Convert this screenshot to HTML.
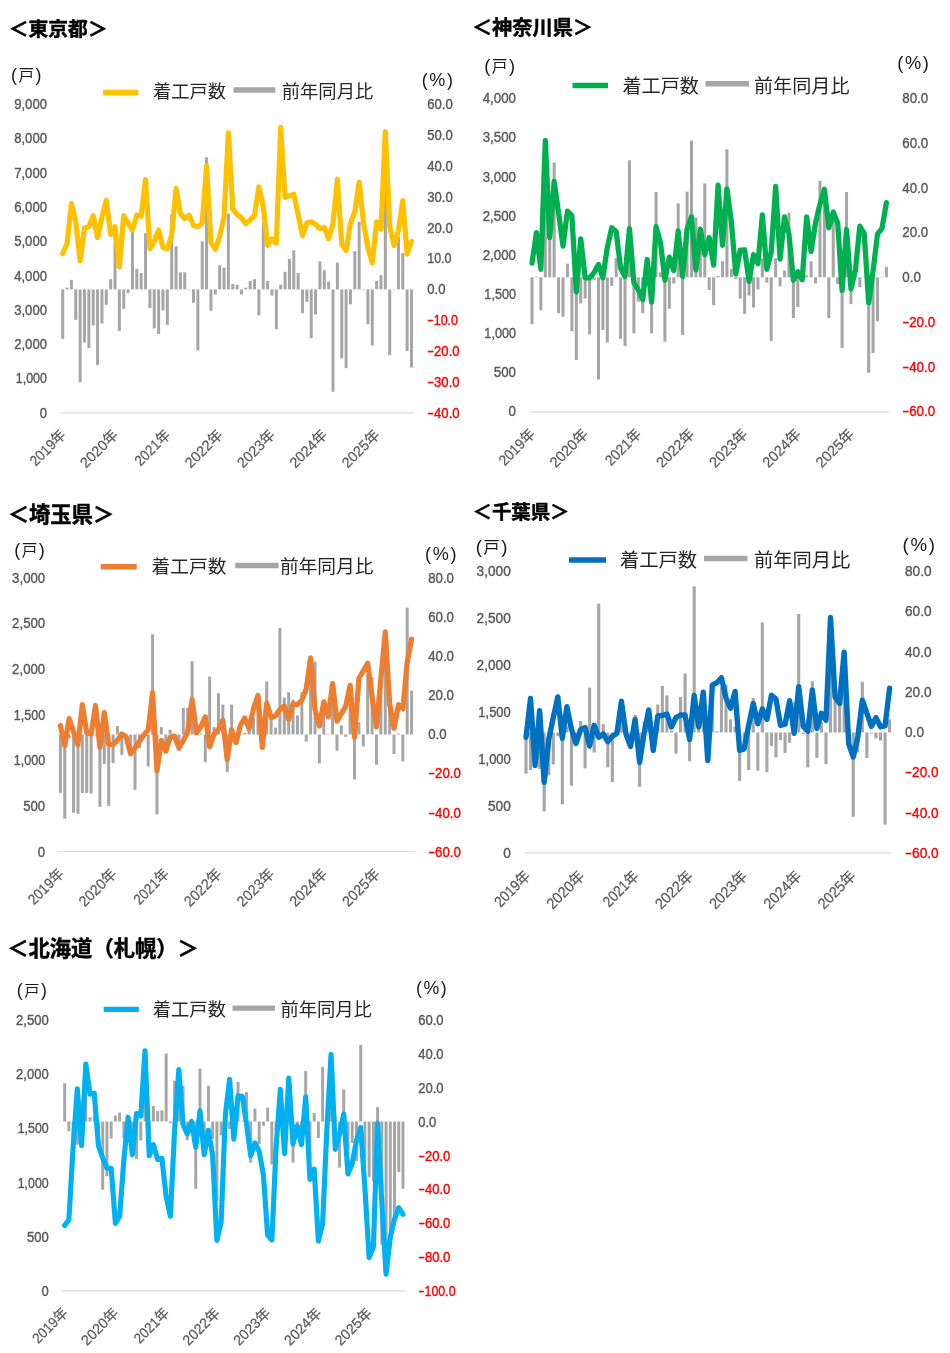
<!DOCTYPE html>
<html lang="ja"><head><meta charset="utf-8"><title>着工戸数</title>
<style>
html,body{margin:0;padding:0;background:#fff}
svg{display:block;font-family:"Liberation Sans", "Noto Sans CJK JP", sans-serif}
</style></head><body>
<svg width="950" height="1353" viewBox="0 0 950 1353">
<rect width="950" height="1353" fill="#fff"/>
<line x1="60.3" x2="413.5" y1="412.9" y2="412.9" stroke="#d9d9d9" stroke-width="1.2"/>
<g fill="#a6a6a6"><rect x="61.20" y="289.40" width="3.0" height="49.50"/><rect x="65.56" y="287.68" width="3.0" height="1.72"/><rect x="69.92" y="279.88" width="3.0" height="9.52"/><rect x="74.28" y="289.40" width="3.0" height="30.48"/><rect x="78.64" y="289.40" width="3.0" height="92.92"/><rect x="83.00" y="289.40" width="3.0" height="53.16"/><rect x="87.36" y="289.40" width="3.0" height="58.53"/><rect x="91.72" y="289.40" width="3.0" height="36.09"/><rect x="96.08" y="289.40" width="3.0" height="75.60"/><rect x="100.44" y="289.40" width="3.0" height="34.14"/><rect x="104.80" y="289.40" width="3.0" height="15.36"/><rect x="109.16" y="279.15" width="3.0" height="10.25"/><rect x="113.52" y="227.93" width="3.0" height="61.47"/><rect x="117.88" y="289.40" width="3.0" height="41.45"/><rect x="122.24" y="289.40" width="3.0" height="19.50"/><rect x="126.60" y="289.40" width="3.0" height="3.65"/><rect x="130.96" y="230.37" width="3.0" height="59.03"/><rect x="135.32" y="268.90" width="3.0" height="20.50"/><rect x="139.68" y="273.05" width="3.0" height="16.35"/><rect x="144.04" y="233.29" width="3.0" height="56.11"/><rect x="148.40" y="289.40" width="3.0" height="18.53"/><rect x="152.76" y="289.40" width="3.0" height="39.01"/><rect x="157.12" y="289.40" width="3.0" height="44.62"/><rect x="161.48" y="289.40" width="3.0" height="20.97"/><rect x="165.84" y="289.40" width="3.0" height="35.60"/><rect x="170.20" y="214.51" width="3.0" height="74.89"/><rect x="174.56" y="246.22" width="3.0" height="43.18"/><rect x="178.92" y="272.32" width="3.0" height="17.08"/><rect x="183.28" y="272.32" width="3.0" height="17.08"/><rect x="187.64" y="289.40" width="3.0" height="0.48"/><rect x="192.00" y="289.40" width="3.0" height="13.40"/><rect x="196.36" y="289.40" width="3.0" height="60.97"/><rect x="200.72" y="241.34" width="3.0" height="48.06"/><rect x="205.08" y="157.20" width="3.0" height="132.20"/><rect x="209.44" y="289.40" width="3.0" height="21.45"/><rect x="213.80" y="289.40" width="3.0" height="5.11"/><rect x="218.16" y="265.24" width="3.0" height="24.16"/><rect x="222.52" y="267.68" width="3.0" height="21.72"/><rect x="226.88" y="213.78" width="3.0" height="75.62"/><rect x="231.24" y="284.02" width="3.0" height="5.38"/><rect x="235.60" y="284.76" width="3.0" height="4.64"/><rect x="239.96" y="289.40" width="3.0" height="5.11"/><rect x="244.32" y="287.68" width="3.0" height="1.72"/><rect x="248.68" y="280.85" width="3.0" height="8.55"/><rect x="253.04" y="279.15" width="3.0" height="10.25"/><rect x="257.40" y="289.40" width="3.0" height="25.84"/><rect x="261.76" y="222.32" width="3.0" height="67.08"/><rect x="266.12" y="280.85" width="3.0" height="8.55"/><rect x="270.48" y="289.40" width="3.0" height="6.09"/><rect x="274.84" y="289.40" width="3.0" height="39.75"/><rect x="279.20" y="284.76" width="3.0" height="4.64"/><rect x="283.56" y="271.83" width="3.0" height="17.57"/><rect x="287.92" y="258.90" width="3.0" height="30.50"/><rect x="292.28" y="250.37" width="3.0" height="39.03"/><rect x="296.64" y="273.05" width="3.0" height="16.35"/><rect x="301.00" y="289.40" width="3.0" height="23.89"/><rect x="305.36" y="289.40" width="3.0" height="12.43"/><rect x="309.72" y="289.40" width="3.0" height="48.77"/><rect x="314.08" y="289.40" width="3.0" height="25.11"/><rect x="318.44" y="261.34" width="3.0" height="28.06"/><rect x="322.80" y="270.12" width="3.0" height="19.28"/><rect x="327.16" y="281.59" width="3.0" height="7.81"/><rect x="331.52" y="289.40" width="3.0" height="102.43"/><rect x="335.88" y="262.56" width="3.0" height="26.84"/><rect x="340.24" y="289.40" width="3.0" height="69.01"/><rect x="344.60" y="289.40" width="3.0" height="78.77"/><rect x="348.96" y="289.40" width="3.0" height="14.87"/><rect x="353.32" y="251.10" width="3.0" height="38.30"/><rect x="357.68" y="221.83" width="3.0" height="67.57"/><rect x="362.04" y="289.40" width="3.0" height="0.48"/><rect x="366.40" y="289.40" width="3.0" height="34.87"/><rect x="370.76" y="289.40" width="3.0" height="56.09"/><rect x="375.12" y="280.85" width="3.0" height="8.55"/><rect x="379.48" y="275.00" width="3.0" height="14.40"/><rect x="383.84" y="186.46" width="3.0" height="102.94"/><rect x="388.20" y="289.40" width="3.0" height="65.84"/><rect x="392.56" y="289.40" width="3.0" height="0.48"/><rect x="396.92" y="236.46" width="3.0" height="52.94"/><rect x="401.28" y="253.05" width="3.0" height="36.35"/><rect x="405.64" y="289.40" width="3.0" height="61.70"/><rect x="410.00" y="289.40" width="3.0" height="78.04"/></g>
<polyline points="62.70,253.54 67.06,243.78 71.42,203.54 75.78,221.83 80.14,260.85 84.50,227.93 88.86,226.71 93.22,215.73 97.58,237.68 101.94,216.95 106.30,200.37 110.66,234.51 115.02,226.71 119.38,266.95 123.74,215.73 128.10,223.05 132.46,229.88 136.82,215.00 141.18,216.22 145.54,179.63 149.90,248.66 154.26,241.34 158.62,229.88 162.98,247.44 167.34,249.15 171.70,235.24 176.06,188.41 180.42,213.78 184.78,218.66 189.14,215.24 193.50,225.49 197.86,226.71 202.22,223.05 206.58,165.73 210.94,242.56 215.30,249.39 219.66,236.46 224.02,216.95 228.38,132.80 232.74,209.15 237.10,214.51 241.46,217.68 245.82,223.78 250.18,220.12 254.54,215.24 258.90,186.95 263.26,205.98 267.62,245.49 271.98,238.90 276.34,243.05 280.70,127.44 285.06,197.44 289.42,195.73 293.78,194.27 298.14,214.51 302.50,235.73 306.86,223.05 311.22,221.83 315.58,224.27 319.94,228.66 324.30,227.44 328.66,238.90 333.02,223.54 337.38,179.15 341.74,244.27 346.10,250.37 350.46,223.05 354.82,212.07 359.18,182.07 363.54,223.05 367.90,247.44 372.26,262.80 376.62,221.83 380.98,229.15 385.34,131.59 389.70,226.71 394.06,245.49 398.42,230.37 402.78,200.61 407.14,254.02 411.50,241.34" fill="none" stroke="#ffc000" stroke-width="5.2" stroke-linejoin="round" stroke-linecap="round"/>
<text x="8.75" y="35.6" font-size="19.8" font-weight="700" fill="#000" stroke="#000" stroke-width="0.45">＜東京都＞</text>
<text x="11.1" y="81" font-size="18.0" fill="#1a1a1a">(<tspan font-size="15.5" dx="1.5">戸</tspan><tspan dx="1.4">)</tspan></text>
<text x="421.7" y="85.8" font-size="18.0" fill="#1a1a1a" letter-spacing="1.6">(%)</text>
<line x1="103" x2="138.3" y1="92.5" y2="92.5" stroke="#ffc000" stroke-width="5.5"/>
<text x="153" y="98" font-size="18.3" fill="#262626">着工戸数</text>
<line x1="233.6" x2="275.3" y1="90" y2="90" stroke="#a6a6a6" stroke-width="5.5"/>
<text x="281.8" y="98" font-size="18.3" fill="#262626">前年同月比</text>
<text transform="translate(47,109.0) scale(0.900,1)" text-anchor="end" font-size="14.6" fill="#595959" stroke="#595959" stroke-width="0.4">9,000</text>
<text transform="translate(47,143.3) scale(0.900,1)" text-anchor="end" font-size="14.6" fill="#595959" stroke="#595959" stroke-width="0.4">8,000</text>
<text transform="translate(47,177.6) scale(0.900,1)" text-anchor="end" font-size="14.6" fill="#595959" stroke="#595959" stroke-width="0.4">7,000</text>
<text transform="translate(47,211.9) scale(0.900,1)" text-anchor="end" font-size="14.6" fill="#595959" stroke="#595959" stroke-width="0.4">6,000</text>
<text transform="translate(47,246.2) scale(0.900,1)" text-anchor="end" font-size="14.6" fill="#595959" stroke="#595959" stroke-width="0.4">5,000</text>
<text transform="translate(47,280.5) scale(0.900,1)" text-anchor="end" font-size="14.6" fill="#595959" stroke="#595959" stroke-width="0.4">4,000</text>
<text transform="translate(47,314.8) scale(0.900,1)" text-anchor="end" font-size="14.6" fill="#595959" stroke="#595959" stroke-width="0.4">3,000</text>
<text transform="translate(47,349.0) scale(0.900,1)" text-anchor="end" font-size="14.6" fill="#595959" stroke="#595959" stroke-width="0.4">2,000</text>
<text transform="translate(47,383.3) scale(0.855,1)" text-anchor="end" font-size="14.6" fill="#595959" stroke="#595959" stroke-width="0.4">1,000</text>
<text transform="translate(47,417.6) scale(0.900,1)" text-anchor="end" font-size="14.6" fill="#595959" stroke="#595959" stroke-width="0.4">0</text>
<text transform="translate(427.2,109.0) scale(0.900,1)" font-size="14.6" fill="#595959" stroke="#595959" stroke-width="0.4">60.0</text>
<text transform="translate(427.2,139.9) scale(0.900,1)" font-size="14.6" fill="#595959" stroke="#595959" stroke-width="0.4">50.0</text>
<text transform="translate(427.2,170.7) scale(0.900,1)" font-size="14.6" fill="#595959" stroke="#595959" stroke-width="0.4">40.0</text>
<text transform="translate(427.2,201.6) scale(0.900,1)" font-size="14.6" fill="#595959" stroke="#595959" stroke-width="0.4">30.0</text>
<text transform="translate(427.2,232.5) scale(0.900,1)" font-size="14.6" fill="#595959" stroke="#595959" stroke-width="0.4">20.0</text>
<text transform="translate(427.2,263.3) scale(0.855,1)" font-size="14.6" fill="#595959" stroke="#595959" stroke-width="0.4">10.0</text>
<text transform="translate(427.2,294.2) scale(0.900,1)" font-size="14.6" fill="#595959" stroke="#595959" stroke-width="0.4">0.0</text>
<text transform="translate(427.2,325.0) scale(0.855,1)" font-size="14.6" fill="#ff0000" stroke="#ff0000" stroke-width="0.4"><tspan textLength="7.6" lengthAdjust="spacingAndGlyphs">-</tspan>10.0</text>
<text transform="translate(427.2,355.9) scale(0.900,1)" font-size="14.6" fill="#ff0000" stroke="#ff0000" stroke-width="0.4"><tspan textLength="7.6" lengthAdjust="spacingAndGlyphs">-</tspan>20.0</text>
<text transform="translate(427.2,386.8) scale(0.900,1)" font-size="14.6" fill="#ff0000" stroke="#ff0000" stroke-width="0.4"><tspan textLength="7.6" lengthAdjust="spacingAndGlyphs">-</tspan>30.0</text>
<text transform="translate(427.2,417.6) scale(0.900,1)" font-size="14.6" fill="#ff0000" stroke="#ff0000" stroke-width="0.4"><tspan textLength="7.6" lengthAdjust="spacingAndGlyphs">-</tspan>40.0</text>
<text transform="translate(66.7,435.9) rotate(-45) scale(0.930,1)" text-anchor="end" font-size="14.6" fill="#595959" stroke="#595959" stroke-width="0.2">2019年</text>
<text transform="translate(119.0,435.9) rotate(-45) scale(0.989,1)" text-anchor="end" font-size="14.6" fill="#595959" stroke="#595959" stroke-width="0.2">2020年</text>
<text transform="translate(171.3,435.9) rotate(-45) scale(0.930,1)" text-anchor="end" font-size="14.6" fill="#595959" stroke="#595959" stroke-width="0.2">2021年</text>
<text transform="translate(223.7,435.9) rotate(-45) scale(0.989,1)" text-anchor="end" font-size="14.6" fill="#595959" stroke="#595959" stroke-width="0.2">2022年</text>
<text transform="translate(276.0,435.9) rotate(-45) scale(0.989,1)" text-anchor="end" font-size="14.6" fill="#595959" stroke="#595959" stroke-width="0.2">2023年</text>
<text transform="translate(328.3,435.9) rotate(-45) scale(0.989,1)" text-anchor="end" font-size="14.6" fill="#595959" stroke="#595959" stroke-width="0.2">2024年</text>
<text transform="translate(380.6,435.9) rotate(-45) scale(0.989,1)" text-anchor="end" font-size="14.6" fill="#595959" stroke="#595959" stroke-width="0.2">2025年</text>
<line x1="529.8" x2="889" y1="412.1" y2="412.1" stroke="#d9d9d9" stroke-width="1.2"/>
<g fill="#a6a6a6"><rect x="530.48" y="277.30" width="3.045" height="46.85"/><rect x="534.91" y="276.59" width="3.045" height="0.71"/><rect x="539.34" y="277.30" width="3.045" height="32.94"/><rect x="543.77" y="199.76" width="3.045" height="77.54"/><rect x="548.20" y="226.59" width="3.045" height="50.71"/><rect x="552.63" y="162.44" width="3.045" height="114.86"/><rect x="557.06" y="277.30" width="3.045" height="35.87"/><rect x="561.49" y="277.30" width="3.045" height="39.53"/><rect x="565.92" y="263.66" width="3.045" height="13.64"/><rect x="570.35" y="277.30" width="3.045" height="53.68"/><rect x="574.78" y="277.30" width="3.045" height="82.70"/><rect x="579.21" y="277.30" width="3.045" height="26.11"/><rect x="583.64" y="277.30" width="3.045" height="21.24"/><rect x="588.07" y="277.30" width="3.045" height="57.09"/><rect x="592.50" y="277.30" width="3.045" height="2.94"/><rect x="596.93" y="277.30" width="3.045" height="102.21"/><rect x="601.36" y="277.30" width="3.045" height="52.94"/><rect x="605.79" y="277.30" width="3.045" height="65.14"/><rect x="610.22" y="277.30" width="3.045" height="8.55"/><rect x="614.65" y="258.29" width="3.045" height="19.01"/><rect x="619.08" y="277.30" width="3.045" height="61.48"/><rect x="623.51" y="277.30" width="3.045" height="68.80"/><rect x="627.94" y="160.24" width="3.045" height="117.06"/><rect x="632.37" y="277.30" width="3.045" height="56.11"/><rect x="636.80" y="277.30" width="3.045" height="24.41"/><rect x="641.23" y="277.30" width="3.045" height="35.87"/><rect x="645.66" y="275.37" width="3.045" height="1.93"/><rect x="650.09" y="277.30" width="3.045" height="56.11"/><rect x="654.52" y="191.95" width="3.045" height="85.35"/><rect x="658.95" y="272.44" width="3.045" height="4.86"/><rect x="663.38" y="277.30" width="3.045" height="64.41"/><rect x="667.81" y="277.30" width="3.045" height="31.48"/><rect x="672.24" y="277.30" width="3.045" height="6.11"/><rect x="676.67" y="203.41" width="3.045" height="73.89"/><rect x="681.10" y="277.30" width="3.045" height="57.58"/><rect x="685.53" y="191.71" width="3.045" height="85.59"/><rect x="689.96" y="140.49" width="3.045" height="136.81"/><rect x="694.39" y="217.56" width="3.045" height="59.74"/><rect x="698.82" y="236.34" width="3.045" height="40.96"/><rect x="703.25" y="183.41" width="3.045" height="93.89"/><rect x="707.68" y="277.30" width="3.045" height="12.70"/><rect x="712.11" y="277.30" width="3.045" height="27.82"/><rect x="716.54" y="275.85" width="3.045" height="1.45"/><rect x="720.97" y="261.22" width="3.045" height="16.08"/><rect x="725.40" y="149.27" width="3.045" height="128.03"/><rect x="729.83" y="268.78" width="3.045" height="8.52"/><rect x="734.26" y="277.30" width="3.045" height="1.72"/><rect x="738.69" y="277.30" width="3.045" height="21.24"/><rect x="743.12" y="277.30" width="3.045" height="36.60"/><rect x="747.55" y="277.30" width="3.045" height="18.31"/><rect x="751.98" y="277.30" width="3.045" height="30.26"/><rect x="756.41" y="277.30" width="3.045" height="12.21"/><rect x="760.84" y="258.29" width="3.045" height="19.01"/><rect x="765.27" y="277.30" width="3.045" height="5.38"/><rect x="769.70" y="277.30" width="3.045" height="63.92"/><rect x="774.13" y="258.29" width="3.045" height="19.01"/><rect x="778.56" y="277.30" width="3.045" height="9.04"/><rect x="782.99" y="270.49" width="3.045" height="6.81"/><rect x="787.42" y="212.68" width="3.045" height="64.62"/><rect x="791.85" y="277.30" width="3.045" height="40.75"/><rect x="796.28" y="277.30" width="3.045" height="29.77"/><rect x="800.71" y="277.30" width="3.045" height="0.99"/><rect x="805.14" y="275.37" width="3.045" height="1.93"/><rect x="809.57" y="261.46" width="3.045" height="15.84"/><rect x="814.00" y="277.30" width="3.045" height="6.11"/><rect x="818.43" y="180.98" width="3.045" height="96.32"/><rect x="822.86" y="194.88" width="3.045" height="82.42"/><rect x="827.29" y="277.30" width="3.045" height="40.75"/><rect x="831.72" y="211.95" width="3.045" height="65.35"/><rect x="836.15" y="277.30" width="3.045" height="6.60"/><rect x="840.58" y="277.30" width="3.045" height="70.75"/><rect x="845.01" y="191.95" width="3.045" height="85.35"/><rect x="849.44" y="277.30" width="3.045" height="26.85"/><rect x="853.87" y="276.34" width="3.045" height="0.96"/><rect x="858.30" y="277.30" width="3.045" height="9.77"/><rect x="862.73" y="276.83" width="3.045" height="0.47"/><rect x="867.16" y="277.30" width="3.045" height="95.63"/><rect x="871.59" y="277.30" width="3.045" height="75.63"/><rect x="876.02" y="277.30" width="3.045" height="43.92"/><rect x="880.45" y="276.83" width="3.045" height="0.47"/><rect x="884.88" y="266.83" width="3.045" height="10.47"/></g>
<polyline points="532.00,263.17 536.43,232.68 540.86,269.27 545.29,140.49 549.72,237.56 554.15,181.46 558.58,213.17 563.01,246.10 567.44,211.22 571.87,215.61 576.30,291.95 580.73,238.78 585.16,277.80 589.59,277.80 594.02,272.68 598.45,264.39 602.88,277.80 607.31,247.32 611.74,227.80 616.17,231.46 620.60,268.05 625.03,276.59 629.46,228.54 633.89,282.68 638.32,290.00 642.75,299.76 647.18,259.51 651.61,302.20 656.04,226.59 660.47,242.44 664.90,280.24 669.33,257.07 673.76,270.49 678.19,230.98 682.62,276.59 687.05,229.02 691.48,216.83 695.91,270.00 700.34,229.02 704.77,254.63 709.20,237.56 713.63,265.12 718.06,185.12 722.49,245.37 726.92,188.78 731.35,221.71 735.78,274.15 740.21,250.24 744.64,249.76 749.07,281.46 753.50,254.63 757.93,263.66 762.36,214.88 766.79,269.27 771.22,252.20 775.65,186.34 780.08,259.02 784.51,216.83 788.94,233.90 793.37,280.24 797.80,271.71 802.23,279.76 806.66,216.83 811.09,251.71 815.52,222.93 819.95,204.15 824.38,189.27 828.81,227.80 833.24,211.95 837.67,222.93 842.10,290.49 846.53,229.51 850.96,288.78 855.39,270.49 859.82,226.10 864.25,233.90 868.68,302.93 873.11,270.49 877.54,233.90 881.97,228.54 886.40,202.68" fill="none" stroke="#00b050" stroke-width="5.278" stroke-linejoin="round" stroke-linecap="round"/>
<text x="471.9" y="35.4" font-size="20.2" font-weight="700" fill="#000" stroke="#000" stroke-width="0.45">＜神奈川県＞</text>
<text x="484.2" y="72.3" font-size="18.3" fill="#1a1a1a">(<tspan font-size="15.7" dx="1.5">戸</tspan><tspan dx="1.4">)</tspan></text>
<text x="897.3" y="69.3" font-size="18.3" fill="#1a1a1a" letter-spacing="1.6">(%)</text>
<line x1="572.5" x2="608" y1="85.5" y2="85.5" stroke="#00b050" stroke-width="5.6"/>
<text x="622.5" y="92.8" font-size="19.1" fill="#262626">着工戸数</text>
<line x1="705.5" x2="749" y1="83.8" y2="83.8" stroke="#a6a6a6" stroke-width="5.6"/>
<text x="754" y="92.8" font-size="19.1" fill="#262626">前年同月比</text>
<text transform="translate(516,103.2) scale(0.900,1)" text-anchor="end" font-size="14.8" fill="#595959" stroke="#595959" stroke-width="0.4">4,000</text>
<text transform="translate(516,142.3) scale(0.900,1)" text-anchor="end" font-size="14.8" fill="#595959" stroke="#595959" stroke-width="0.4">3,500</text>
<text transform="translate(516,181.5) scale(0.900,1)" text-anchor="end" font-size="14.8" fill="#595959" stroke="#595959" stroke-width="0.4">3,000</text>
<text transform="translate(516,220.6) scale(0.900,1)" text-anchor="end" font-size="14.8" fill="#595959" stroke="#595959" stroke-width="0.4">2,500</text>
<text transform="translate(516,259.8) scale(0.900,1)" text-anchor="end" font-size="14.8" fill="#595959" stroke="#595959" stroke-width="0.4">2,000</text>
<text transform="translate(516,298.9) scale(0.855,1)" text-anchor="end" font-size="14.8" fill="#595959" stroke="#595959" stroke-width="0.4">1,500</text>
<text transform="translate(516,338.0) scale(0.855,1)" text-anchor="end" font-size="14.8" fill="#595959" stroke="#595959" stroke-width="0.4">1,000</text>
<text transform="translate(516,377.2) scale(0.900,1)" text-anchor="end" font-size="14.8" fill="#595959" stroke="#595959" stroke-width="0.4">500</text>
<text transform="translate(516,416.3) scale(0.900,1)" text-anchor="end" font-size="14.8" fill="#595959" stroke="#595959" stroke-width="0.4">0</text>
<text transform="translate(902.3,103.2) scale(0.900,1)" font-size="14.8" fill="#595959" stroke="#595959" stroke-width="0.4">80.0</text>
<text transform="translate(902.3,147.9) scale(0.900,1)" font-size="14.8" fill="#595959" stroke="#595959" stroke-width="0.4">60.0</text>
<text transform="translate(902.3,192.7) scale(0.900,1)" font-size="14.8" fill="#595959" stroke="#595959" stroke-width="0.4">40.0</text>
<text transform="translate(902.3,237.4) scale(0.900,1)" font-size="14.8" fill="#595959" stroke="#595959" stroke-width="0.4">20.0</text>
<text transform="translate(902.3,282.1) scale(0.900,1)" font-size="14.8" fill="#595959" stroke="#595959" stroke-width="0.4">0.0</text>
<text transform="translate(902.3,326.8) scale(0.900,1)" font-size="14.8" fill="#ff0000" stroke="#ff0000" stroke-width="0.4"><tspan textLength="7.7" lengthAdjust="spacingAndGlyphs">-</tspan>20.0</text>
<text transform="translate(902.3,371.6) scale(0.900,1)" font-size="14.8" fill="#ff0000" stroke="#ff0000" stroke-width="0.4"><tspan textLength="7.7" lengthAdjust="spacingAndGlyphs">-</tspan>40.0</text>
<text transform="translate(902.3,416.3) scale(0.900,1)" font-size="14.8" fill="#ff0000" stroke="#ff0000" stroke-width="0.4"><tspan textLength="7.7" lengthAdjust="spacingAndGlyphs">-</tspan>60.0</text>
<text transform="translate(536.0,435.1) rotate(-45) scale(0.930,1)" text-anchor="end" font-size="14.8" fill="#595959" stroke="#595959" stroke-width="0.2">2019年</text>
<text transform="translate(589.2,435.1) rotate(-45) scale(0.989,1)" text-anchor="end" font-size="14.8" fill="#595959" stroke="#595959" stroke-width="0.2">2020年</text>
<text transform="translate(642.3,435.1) rotate(-45) scale(0.930,1)" text-anchor="end" font-size="14.8" fill="#595959" stroke="#595959" stroke-width="0.2">2021年</text>
<text transform="translate(695.5,435.1) rotate(-45) scale(0.989,1)" text-anchor="end" font-size="14.8" fill="#595959" stroke="#595959" stroke-width="0.2">2022年</text>
<text transform="translate(748.6,435.1) rotate(-45) scale(0.989,1)" text-anchor="end" font-size="14.8" fill="#595959" stroke="#595959" stroke-width="0.2">2023年</text>
<text transform="translate(801.8,435.1) rotate(-45) scale(0.989,1)" text-anchor="end" font-size="14.8" fill="#595959" stroke="#595959" stroke-width="0.2">2024年</text>
<text transform="translate(855.0,435.1) rotate(-45) scale(0.989,1)" text-anchor="end" font-size="14.8" fill="#595959" stroke="#595959" stroke-width="0.2">2025年</text>
<line x1="58.3" x2="415" y1="851.5" y2="851.5" stroke="#d9d9d9" stroke-width="1.2"/>
<g fill="#a6a6a6"><rect x="58.89" y="734.50" width="3.0149999999999997" height="58.47"/><rect x="63.28" y="734.50" width="3.0149999999999997" height="84.20"/><rect x="67.67" y="734.50" width="3.0149999999999997" height="3.80"/><rect x="72.06" y="734.50" width="3.0149999999999997" height="78.20"/><rect x="76.45" y="734.50" width="3.0149999999999997" height="79.27"/><rect x="80.84" y="734.50" width="3.0149999999999997" height="58.47"/><rect x="85.23" y="734.50" width="3.0149999999999997" height="58.47"/><rect x="89.62" y="734.50" width="3.0149999999999997" height="59.11"/><rect x="94.01" y="734.50" width="3.0149999999999997" height="1.01"/><rect x="98.40" y="734.50" width="3.0149999999999997" height="72.41"/><rect x="102.79" y="734.50" width="3.0149999999999997" height="29.53"/><rect x="107.18" y="734.50" width="3.0149999999999997" height="71.33"/><rect x="111.57" y="734.50" width="3.0149999999999997" height="28.46"/><rect x="115.96" y="726.08" width="3.0149999999999997" height="8.42"/><rect x="120.35" y="734.50" width="3.0149999999999997" height="20.31"/><rect x="124.74" y="734.50" width="3.0149999999999997" height="4.87"/><rect x="129.13" y="734.50" width="3.0149999999999997" height="17.74"/><rect x="133.52" y="734.50" width="3.0149999999999997" height="55.25"/><rect x="137.91" y="734.50" width="3.0149999999999997" height="13.88"/><rect x="142.30" y="734.50" width="3.0149999999999997" height="1.01"/><rect x="146.69" y="734.50" width="3.0149999999999997" height="32.10"/><rect x="151.08" y="634.32" width="3.0149999999999997" height="100.18"/><rect x="155.47" y="734.50" width="3.0149999999999997" height="79.91"/><rect x="159.86" y="727.15" width="3.0149999999999997" height="7.35"/><rect x="164.25" y="734.50" width="3.0149999999999997" height="15.59"/><rect x="168.64" y="729.72" width="3.0149999999999997" height="4.78"/><rect x="173.03" y="734.50" width="3.0149999999999997" height="0.58"/><rect x="177.42" y="734.50" width="3.0149999999999997" height="16.24"/><rect x="181.81" y="707.86" width="3.0149999999999997" height="26.64"/><rect x="186.20" y="707.86" width="3.0149999999999997" height="26.64"/><rect x="190.59" y="661.12" width="3.0149999999999997" height="73.38"/><rect x="194.98" y="733.80" width="3.0149999999999997" height="0.70"/><rect x="199.37" y="733.58" width="3.0149999999999997" height="0.92"/><rect x="203.76" y="734.50" width="3.0149999999999997" height="27.81"/><rect x="208.15" y="676.55" width="3.0149999999999997" height="57.95"/><rect x="212.54" y="727.15" width="3.0149999999999997" height="7.35"/><rect x="216.93" y="693.28" width="3.0149999999999997" height="41.22"/><rect x="221.32" y="704.64" width="3.0149999999999997" height="29.86"/><rect x="225.71" y="734.50" width="3.0149999999999997" height="37.67"/><rect x="230.10" y="704.64" width="3.0149999999999997" height="29.86"/><rect x="234.49" y="734.50" width="3.0149999999999997" height="4.87"/><rect x="238.88" y="733.80" width="3.0149999999999997" height="0.70"/><rect x="243.27" y="732.94" width="3.0149999999999997" height="1.56"/><rect x="247.66" y="727.58" width="3.0149999999999997" height="6.92"/><rect x="252.05" y="717.93" width="3.0149999999999997" height="16.57"/><rect x="256.44" y="707.21" width="3.0149999999999997" height="27.29"/><rect x="260.83" y="734.50" width="3.0149999999999997" height="7.02"/><rect x="265.22" y="681.49" width="3.0149999999999997" height="53.01"/><rect x="269.61" y="717.93" width="3.0149999999999997" height="16.57"/><rect x="274.00" y="727.58" width="3.0149999999999997" height="6.92"/><rect x="278.39" y="627.89" width="3.0149999999999997" height="106.61"/><rect x="282.78" y="697.57" width="3.0149999999999997" height="36.93"/><rect x="287.17" y="692.21" width="3.0149999999999997" height="42.29"/><rect x="291.56" y="699.71" width="3.0149999999999997" height="34.79"/><rect x="295.95" y="715.36" width="3.0149999999999997" height="19.14"/><rect x="300.34" y="692.21" width="3.0149999999999997" height="42.29"/><rect x="304.73" y="734.50" width="3.0149999999999997" height="7.02"/><rect x="309.12" y="677.20" width="3.0149999999999997" height="57.30"/><rect x="313.51" y="661.76" width="3.0149999999999997" height="72.74"/><rect x="317.90" y="734.50" width="3.0149999999999997" height="28.88"/><rect x="322.29" y="711.50" width="3.0149999999999997" height="23.00"/><rect x="326.68" y="734.50" width="3.0149999999999997" height="0.58"/><rect x="331.07" y="698.64" width="3.0149999999999997" height="35.86"/><rect x="335.46" y="734.50" width="3.0149999999999997" height="16.24"/><rect x="339.85" y="725.44" width="3.0149999999999997" height="9.06"/><rect x="344.24" y="734.50" width="3.0149999999999997" height="2.30"/><rect x="348.63" y="702.92" width="3.0149999999999997" height="31.58"/><rect x="353.02" y="734.50" width="3.0149999999999997" height="44.96"/><rect x="357.41" y="722.22" width="3.0149999999999997" height="12.28"/><rect x="361.80" y="734.50" width="3.0149999999999997" height="11.95"/><rect x="366.19" y="675.05" width="3.0149999999999997" height="59.45"/><rect x="370.58" y="677.20" width="3.0149999999999997" height="57.30"/><rect x="374.97" y="734.50" width="3.0149999999999997" height="30.17"/><rect x="379.36" y="670.77" width="3.0149999999999997" height="63.73"/><rect x="383.75" y="666.48" width="3.0149999999999997" height="68.02"/><rect x="388.14" y="694.35" width="3.0149999999999997" height="40.15"/><rect x="392.53" y="734.50" width="3.0149999999999997" height="19.45"/><rect x="396.92" y="733.58" width="3.0149999999999997" height="0.92"/><rect x="401.31" y="734.50" width="3.0149999999999997" height="26.95"/><rect x="405.70" y="607.52" width="3.0149999999999997" height="126.98"/><rect x="410.09" y="690.70" width="3.0149999999999997" height="43.80"/></g>
<polyline points="60.40,725.44 64.79,745.80 69.18,718.58 73.57,731.87 77.96,744.73 82.35,704.64 86.74,732.94 91.13,734.01 95.52,705.50 99.91,747.52 104.30,712.57 108.69,744.09 113.08,744.73 117.47,740.02 121.86,734.01 126.25,737.23 130.64,753.95 135.03,747.95 139.42,741.52 143.81,735.08 148.20,729.72 152.59,692.63 156.98,770.89 161.37,740.44 165.76,751.16 170.15,737.23 174.54,736.16 178.93,747.95 183.32,740.44 187.71,731.87 192.10,699.71 196.49,732.94 200.88,726.51 205.27,716.86 209.66,746.88 214.05,734.01 218.44,729.72 222.83,720.08 227.22,759.74 231.61,729.72 236.00,742.59 240.39,725.44 244.78,717.93 249.17,728.65 253.56,708.28 257.95,695.42 262.34,747.52 266.73,702.92 271.12,717.50 275.51,715.79 279.90,709.36 284.29,706.14 288.68,719.65 293.07,704.00 297.46,704.64 301.85,700.14 306.24,688.99 310.63,657.90 315.02,709.36 319.41,726.08 323.80,701.85 328.19,716.86 332.58,683.63 336.97,721.15 341.36,713.64 345.75,706.14 350.14,685.34 354.53,737.23 358.92,678.27 363.31,670.77 367.70,663.26 372.09,696.49 376.48,726.94 380.87,679.34 385.26,631.75 389.65,704.00 394.04,728.22 398.43,704.64 402.82,708.93 407.21,662.19 411.60,639.04" fill="none" stroke="#ed7d31" stroke-width="5.226" stroke-linejoin="round" stroke-linecap="round"/>
<text x="7.7" y="521.6" font-size="21.3" font-weight="700" fill="#000" stroke="#000" stroke-width="0.45">＜埼玉県＞</text>
<text x="14.2" y="556.4" font-size="18.1" fill="#1a1a1a">(<tspan font-size="15.6" dx="1.5">戸</tspan><tspan dx="1.4">)</tspan></text>
<text x="425.1" y="560.4" font-size="18.1" fill="#1a1a1a" letter-spacing="1.6">(%)</text>
<line x1="100.8" x2="136.7" y1="566.8" y2="566.8" stroke="#ed7d31" stroke-width="5.5"/>
<text x="151.6" y="573" font-size="18.7" fill="#262626">着工戸数</text>
<line x1="235.2" x2="278.6" y1="565.4" y2="565.4" stroke="#a6a6a6" stroke-width="5.5"/>
<text x="279.9" y="573" font-size="18.7" fill="#262626">前年同月比</text>
<text transform="translate(45.2,582.7) scale(0.900,1)" text-anchor="end" font-size="14.7" fill="#595959" stroke="#595959" stroke-width="0.4">3,000</text>
<text transform="translate(45.2,628.3) scale(0.900,1)" text-anchor="end" font-size="14.7" fill="#595959" stroke="#595959" stroke-width="0.4">2,500</text>
<text transform="translate(45.2,674.0) scale(0.900,1)" text-anchor="end" font-size="14.7" fill="#595959" stroke="#595959" stroke-width="0.4">2,000</text>
<text transform="translate(45.2,719.7) scale(0.855,1)" text-anchor="end" font-size="14.7" fill="#595959" stroke="#595959" stroke-width="0.4">1,500</text>
<text transform="translate(45.2,765.4) scale(0.855,1)" text-anchor="end" font-size="14.7" fill="#595959" stroke="#595959" stroke-width="0.4">1,000</text>
<text transform="translate(45.2,811.1) scale(0.900,1)" text-anchor="end" font-size="14.7" fill="#595959" stroke="#595959" stroke-width="0.4">500</text>
<text transform="translate(45.2,856.8) scale(0.900,1)" text-anchor="end" font-size="14.7" fill="#595959" stroke="#595959" stroke-width="0.4">0</text>
<text transform="translate(428.2,582.7) scale(0.900,1)" font-size="14.7" fill="#595959" stroke="#595959" stroke-width="0.4">80.0</text>
<text transform="translate(428.2,621.8) scale(0.900,1)" font-size="14.7" fill="#595959" stroke="#595959" stroke-width="0.4">60.0</text>
<text transform="translate(428.2,661.0) scale(0.900,1)" font-size="14.7" fill="#595959" stroke="#595959" stroke-width="0.4">40.0</text>
<text transform="translate(428.2,700.1) scale(0.900,1)" font-size="14.7" fill="#595959" stroke="#595959" stroke-width="0.4">20.0</text>
<text transform="translate(428.2,739.3) scale(0.900,1)" font-size="14.7" fill="#595959" stroke="#595959" stroke-width="0.4">0.0</text>
<text transform="translate(428.2,778.4) scale(0.900,1)" font-size="14.7" fill="#ff0000" stroke="#ff0000" stroke-width="0.4"><tspan textLength="7.6" lengthAdjust="spacingAndGlyphs">-</tspan>20.0</text>
<text transform="translate(428.2,817.6) scale(0.900,1)" font-size="14.7" fill="#ff0000" stroke="#ff0000" stroke-width="0.4"><tspan textLength="7.6" lengthAdjust="spacingAndGlyphs">-</tspan>40.0</text>
<text transform="translate(428.2,856.8) scale(0.900,1)" font-size="14.7" fill="#ff0000" stroke="#ff0000" stroke-width="0.4"><tspan textLength="7.6" lengthAdjust="spacingAndGlyphs">-</tspan>60.0</text>
<text transform="translate(64.7,874.8) rotate(-45) scale(0.915,1)" text-anchor="end" font-size="14.7" fill="#595959" stroke="#595959" stroke-width="0.2">2019年</text>
<text transform="translate(117.4,874.8) rotate(-45) scale(0.973,1)" text-anchor="end" font-size="14.7" fill="#595959" stroke="#595959" stroke-width="0.2">2020年</text>
<text transform="translate(170.1,874.8) rotate(-45) scale(0.915,1)" text-anchor="end" font-size="14.7" fill="#595959" stroke="#595959" stroke-width="0.2">2021年</text>
<text transform="translate(222.7,874.8) rotate(-45) scale(0.973,1)" text-anchor="end" font-size="14.7" fill="#595959" stroke="#595959" stroke-width="0.2">2022年</text>
<text transform="translate(275.4,874.8) rotate(-45) scale(0.973,1)" text-anchor="end" font-size="14.7" fill="#595959" stroke="#595959" stroke-width="0.2">2023年</text>
<text transform="translate(328.1,874.8) rotate(-45) scale(0.973,1)" text-anchor="end" font-size="14.7" fill="#595959" stroke="#595959" stroke-width="0.2">2024年</text>
<text transform="translate(380.8,874.8) rotate(-45) scale(0.973,1)" text-anchor="end" font-size="14.7" fill="#595959" stroke="#595959" stroke-width="0.2">2025年</text>
<line x1="524.7" x2="891" y1="852.9" y2="852.9" stroke="#d9d9d9" stroke-width="1.2"/>
<g fill="#a6a6a6"><rect x="524.44" y="732.50" width="3.12" height="41.19"/><rect x="528.99" y="732.50" width="3.12" height="37.48"/><rect x="533.53" y="732.50" width="3.12" height="28.76"/><rect x="538.08" y="732.50" width="3.12" height="36.39"/><rect x="542.62" y="732.50" width="3.12" height="78.92"/><rect x="547.17" y="732.50" width="3.12" height="42.94"/><rect x="551.71" y="732.50" width="3.12" height="32.03"/><rect x="556.26" y="732.50" width="3.12" height="3.68"/><rect x="560.80" y="732.50" width="3.12" height="71.72"/><rect x="565.35" y="726.37" width="3.12" height="6.13"/><rect x="569.89" y="732.50" width="3.12" height="53.19"/><rect x="574.44" y="732.50" width="3.12" height="6.95"/><rect x="578.98" y="720.92" width="3.12" height="11.58"/><rect x="583.53" y="732.50" width="3.12" height="35.96"/><rect x="588.07" y="687.55" width="3.12" height="44.95"/><rect x="592.62" y="732.50" width="3.12" height="20.04"/><rect x="597.16" y="603.60" width="3.12" height="128.90"/><rect x="601.71" y="724.19" width="3.12" height="8.31"/><rect x="606.25" y="732.50" width="3.12" height="34.87"/><rect x="610.80" y="732.50" width="3.12" height="49.48"/><rect x="615.34" y="732.50" width="3.12" height="0.85"/><rect x="619.88" y="715.47" width="3.12" height="17.03"/><rect x="624.43" y="732.50" width="3.12" height="1.50"/><rect x="628.98" y="732.50" width="3.12" height="11.32"/><rect x="633.52" y="715.03" width="3.12" height="17.47"/><rect x="638.07" y="732.50" width="3.12" height="54.28"/><rect x="642.61" y="721.57" width="3.12" height="10.93"/><rect x="647.16" y="722.01" width="3.12" height="10.49"/><rect x="651.70" y="732.50" width="3.12" height="20.48"/><rect x="656.25" y="704.56" width="3.12" height="27.94"/><rect x="660.79" y="686.03" width="3.12" height="46.47"/><rect x="665.34" y="695.40" width="3.12" height="37.10"/><rect x="669.88" y="730.73" width="3.12" height="1.77"/><rect x="674.43" y="732.50" width="3.12" height="21.13"/><rect x="678.97" y="696.93" width="3.12" height="35.57"/><rect x="683.52" y="673.38" width="3.12" height="59.12"/><rect x="688.06" y="732.50" width="3.12" height="28.76"/><rect x="692.61" y="586.37" width="3.12" height="146.13"/><rect x="697.15" y="728.55" width="3.12" height="3.95"/><rect x="701.70" y="717.65" width="3.12" height="14.85"/><rect x="706.24" y="732.50" width="3.12" height="24.40"/><rect x="710.79" y="695.84" width="3.12" height="36.66"/><rect x="715.33" y="731.17" width="3.12" height="1.33"/><rect x="719.88" y="687.12" width="3.12" height="45.38"/><rect x="724.42" y="684.50" width="3.12" height="48.00"/><rect x="728.97" y="719.39" width="3.12" height="13.11"/><rect x="733.51" y="726.37" width="3.12" height="6.13"/><rect x="738.06" y="732.50" width="3.12" height="48.39"/><rect x="742.60" y="732.50" width="3.12" height="13.50"/><rect x="747.14" y="732.50" width="3.12" height="37.48"/><rect x="751.69" y="698.02" width="3.12" height="34.48"/><rect x="756.24" y="732.50" width="3.12" height="38.14"/><rect x="760.78" y="622.35" width="3.12" height="110.15"/><rect x="765.33" y="732.50" width="3.12" height="39.67"/><rect x="769.87" y="732.50" width="3.12" height="13.50"/><rect x="774.42" y="732.50" width="3.12" height="24.84"/><rect x="778.96" y="732.50" width="3.12" height="7.61"/><rect x="783.51" y="732.50" width="3.12" height="20.48"/><rect x="788.05" y="732.50" width="3.12" height="10.23"/><rect x="792.60" y="702.38" width="3.12" height="30.12"/><rect x="797.14" y="614.07" width="3.12" height="118.43"/><rect x="801.69" y="732.50" width="3.12" height="1.50"/><rect x="806.23" y="732.50" width="3.12" height="34.87"/><rect x="810.78" y="681.23" width="3.12" height="51.27"/><rect x="815.32" y="732.50" width="3.12" height="25.49"/><rect x="819.87" y="722.01" width="3.12" height="10.49"/><rect x="824.41" y="732.50" width="3.12" height="31.60"/><rect x="828.96" y="658.77" width="3.12" height="73.73"/><rect x="833.50" y="687.12" width="3.12" height="45.38"/><rect x="838.05" y="695.84" width="3.12" height="36.66"/><rect x="842.59" y="682.76" width="3.12" height="49.74"/><rect x="847.13" y="732.50" width="3.12" height="11.32"/><rect x="851.68" y="732.50" width="3.12" height="84.37"/><rect x="856.23" y="732.50" width="3.12" height="20.04"/><rect x="860.77" y="681.67" width="3.12" height="50.83"/><rect x="865.32" y="732.50" width="3.12" height="25.49"/><rect x="869.86" y="732.50" width="3.12" height="0.85"/><rect x="874.40" y="732.50" width="3.12" height="5.86"/><rect x="878.95" y="732.50" width="3.12" height="8.05"/><rect x="883.50" y="732.50" width="3.12" height="92.00"/><rect x="888.04" y="719.39" width="3.12" height="13.11"/></g>
<polyline points="526.00,737.27 530.54,698.46 535.09,765.62 539.63,710.67 544.18,782.41 548.73,739.45 553.27,717.65 557.82,696.93 562.36,738.36 566.90,706.74 571.45,728.99 576.00,743.38 580.54,729.64 585.09,727.46 589.63,746.00 594.17,725.28 598.72,737.27 603.26,734.00 607.81,741.64 612.36,736.18 616.90,733.35 621.44,701.29 625.99,734.00 630.53,746.43 635.08,719.39 639.62,762.35 644.17,732.91 648.72,710.02 653.26,750.36 657.81,715.90 662.35,715.47 666.89,713.94 671.44,727.02 675.99,717.65 680.53,715.03 685.08,715.03 689.62,739.45 694.16,695.40 698.71,726.81 703.25,692.13 707.80,760.61 712.35,684.94 716.89,682.76 721.43,677.74 725.98,698.02 730.52,708.27 735.07,691.48 739.62,750.36 744.16,748.83 748.70,725.28 753.25,703.47 757.79,723.75 762.34,708.93 766.88,719.39 771.43,695.19 775.98,699.11 780.52,725.28 785.07,724.19 789.61,700.64 794.15,733.35 798.70,686.68 803.25,726.37 807.79,731.17 812.34,689.95 816.88,728.55 821.42,713.29 825.97,720.26 830.51,617.34 835.06,696.93 839.61,703.47 844.15,652.23 848.69,743.82 853.24,756.90 857.78,737.27 862.33,700.20 866.88,713.29 871.42,726.37 875.96,717.65 880.51,726.81 885.06,725.93 889.60,688.21" fill="none" stroke="#0070c0" stroke-width="5.408" stroke-linejoin="round" stroke-linecap="round"/>
<text x="472.5" y="518.8" font-size="19.4" font-weight="700" fill="#000" stroke="#000" stroke-width="0.45">＜千葉県＞</text>
<text x="475.7" y="552.9" font-size="18.7" fill="#1a1a1a">(<tspan font-size="16.1" dx="1.6">戸</tspan><tspan dx="1.5">)</tspan></text>
<text x="902.6" y="551.4" font-size="18.7" fill="#1a1a1a" letter-spacing="1.7">(%)</text>
<line x1="569" x2="606" y1="560" y2="560" stroke="#0070c0" stroke-width="5.7"/>
<text x="620" y="566.5" font-size="19.3" fill="#262626">着工戸数</text>
<line x1="704" x2="747.5" y1="558.5" y2="558.5" stroke="#a6a6a6" stroke-width="5.7"/>
<text x="754" y="566.5" font-size="19.3" fill="#262626">前年同月比</text>
<text transform="translate(510.8,575.9) scale(0.900,1)" text-anchor="end" font-size="15.2" fill="#595959" stroke="#595959" stroke-width="0.4">3,000</text>
<text transform="translate(510.8,622.9) scale(0.900,1)" text-anchor="end" font-size="15.2" fill="#595959" stroke="#595959" stroke-width="0.4">2,500</text>
<text transform="translate(510.8,669.9) scale(0.900,1)" text-anchor="end" font-size="15.2" fill="#595959" stroke="#595959" stroke-width="0.4">2,000</text>
<text transform="translate(510.8,716.9) scale(0.855,1)" text-anchor="end" font-size="15.2" fill="#595959" stroke="#595959" stroke-width="0.4">1,500</text>
<text transform="translate(510.8,763.9) scale(0.855,1)" text-anchor="end" font-size="15.2" fill="#595959" stroke="#595959" stroke-width="0.4">1,000</text>
<text transform="translate(510.8,810.9) scale(0.900,1)" text-anchor="end" font-size="15.2" fill="#595959" stroke="#595959" stroke-width="0.4">500</text>
<text transform="translate(510.8,857.8) scale(0.900,1)" text-anchor="end" font-size="15.2" fill="#595959" stroke="#595959" stroke-width="0.4">0</text>
<text transform="translate(905,575.9) scale(0.900,1)" font-size="15.2" fill="#595959" stroke="#595959" stroke-width="0.4">80.0</text>
<text transform="translate(905,616.2) scale(0.900,1)" font-size="15.2" fill="#595959" stroke="#595959" stroke-width="0.4">60.0</text>
<text transform="translate(905,656.5) scale(0.900,1)" font-size="15.2" fill="#595959" stroke="#595959" stroke-width="0.4">40.0</text>
<text transform="translate(905,696.8) scale(0.900,1)" font-size="15.2" fill="#595959" stroke="#595959" stroke-width="0.4">20.0</text>
<text transform="translate(905,737.0) scale(0.900,1)" font-size="15.2" fill="#595959" stroke="#595959" stroke-width="0.4">0.0</text>
<text transform="translate(905,777.3) scale(0.900,1)" font-size="15.2" fill="#ff0000" stroke="#ff0000" stroke-width="0.4"><tspan textLength="7.9" lengthAdjust="spacingAndGlyphs">-</tspan>20.0</text>
<text transform="translate(905,817.6) scale(0.900,1)" font-size="15.2" fill="#ff0000" stroke="#ff0000" stroke-width="0.4"><tspan textLength="7.9" lengthAdjust="spacingAndGlyphs">-</tspan>40.0</text>
<text transform="translate(905,857.8) scale(0.900,1)" font-size="15.2" fill="#ff0000" stroke="#ff0000" stroke-width="0.4"><tspan textLength="7.9" lengthAdjust="spacingAndGlyphs">-</tspan>60.0</text>
<text transform="translate(531.2,877.1) rotate(-45) scale(0.890,1)" text-anchor="end" font-size="15.2" fill="#595959" stroke="#595959" stroke-width="0.2">2019年</text>
<text transform="translate(585.5,877.1) rotate(-45) scale(0.947,1)" text-anchor="end" font-size="15.2" fill="#595959" stroke="#595959" stroke-width="0.2">2020年</text>
<text transform="translate(639.7,877.1) rotate(-45) scale(0.890,1)" text-anchor="end" font-size="15.2" fill="#595959" stroke="#595959" stroke-width="0.2">2021年</text>
<text transform="translate(694.0,877.1) rotate(-45) scale(0.947,1)" text-anchor="end" font-size="15.2" fill="#595959" stroke="#595959" stroke-width="0.2">2022年</text>
<text transform="translate(748.2,877.1) rotate(-45) scale(0.947,1)" text-anchor="end" font-size="15.2" fill="#595959" stroke="#595959" stroke-width="0.2">2023年</text>
<text transform="translate(802.5,877.1) rotate(-45) scale(0.947,1)" text-anchor="end" font-size="15.2" fill="#595959" stroke="#595959" stroke-width="0.2">2024年</text>
<text transform="translate(856.7,877.1) rotate(-45) scale(0.947,1)" text-anchor="end" font-size="15.2" fill="#595959" stroke="#595959" stroke-width="0.2">2025年</text>
<line x1="61.9" x2="405" y1="1290.9" y2="1290.9" stroke="#d9d9d9" stroke-width="1.2"/>
<g fill="#a6a6a6"><rect x="63.17" y="1083.32" width="2.9699999999999998" height="38.18"/><rect x="67.39" y="1121.50" width="2.9699999999999998" height="9.63"/><rect x="71.62" y="1121.50" width="2.9699999999999998" height="17.14"/><rect x="75.85" y="1121.50" width="2.9699999999999998" height="23.14"/><rect x="80.08" y="1121.50" width="2.9699999999999998" height="8.56"/><rect x="84.31" y="1091.47" width="2.9699999999999998" height="30.03"/><rect x="88.54" y="1117.20" width="2.9699999999999998" height="4.30"/><rect x="92.77" y="1116.13" width="2.9699999999999998" height="5.37"/><rect x="97.00" y="1121.50" width="2.9699999999999998" height="17.14"/><rect x="101.23" y="1121.50" width="2.9699999999999998" height="68.16"/><rect x="105.45" y="1121.50" width="2.9699999999999998" height="54.66"/><rect x="109.68" y="1121.50" width="2.9699999999999998" height="17.14"/><rect x="113.91" y="1115.48" width="2.9699999999999998" height="6.02"/><rect x="118.14" y="1112.48" width="2.9699999999999998" height="9.02"/><rect x="122.37" y="1121.50" width="2.9699999999999998" height="16.71"/><rect x="126.60" y="1119.34" width="2.9699999999999998" height="2.16"/><rect x="130.83" y="1121.50" width="2.9699999999999998" height="27.86"/><rect x="135.06" y="1121.50" width="2.9699999999999998" height="37.50"/><rect x="139.29" y="1121.50" width="2.9699999999999998" height="18.85"/><rect x="143.52" y="1095.76" width="2.9699999999999998" height="25.74"/><rect x="147.75" y="1121.50" width="2.9699999999999998" height="8.56"/><rect x="151.97" y="1106.05" width="2.9699999999999998" height="15.45"/><rect x="156.20" y="1111.19" width="2.9699999999999998" height="10.31"/><rect x="160.43" y="1110.34" width="2.9699999999999998" height="11.16"/><rect x="164.66" y="1053.52" width="2.9699999999999998" height="67.98"/><rect x="168.89" y="1121.50" width="2.9699999999999998" height="1.49"/><rect x="173.12" y="1080.75" width="2.9699999999999998" height="40.75"/><rect x="177.35" y="1085.04" width="2.9699999999999998" height="36.46"/><rect x="181.58" y="1085.68" width="2.9699999999999998" height="35.82"/><rect x="185.81" y="1121.50" width="2.9699999999999998" height="18.85"/><rect x="190.03" y="1120.41" width="2.9699999999999998" height="1.09"/><rect x="194.26" y="1121.50" width="2.9699999999999998" height="67.52"/><rect x="198.49" y="1068.53" width="2.9699999999999998" height="52.97"/><rect x="202.72" y="1121.50" width="2.9699999999999998" height="17.14"/><rect x="206.95" y="1085.68" width="2.9699999999999998" height="35.82"/><rect x="211.18" y="1121.50" width="2.9699999999999998" height="17.14"/><rect x="215.41" y="1121.50" width="2.9699999999999998" height="79.31"/><rect x="219.64" y="1121.50" width="2.9699999999999998" height="13.92"/><rect x="223.87" y="1120.41" width="2.9699999999999998" height="1.09"/><rect x="228.10" y="1121.50" width="2.9699999999999998" height="7.49"/><rect x="232.32" y="1121.50" width="2.9699999999999998" height="4.27"/><rect x="236.55" y="1081.82" width="2.9699999999999998" height="39.68"/><rect x="240.78" y="1120.84" width="2.9699999999999998" height="0.66"/><rect x="245.01" y="1092.11" width="2.9699999999999998" height="29.39"/><rect x="249.24" y="1121.50" width="2.9699999999999998" height="41.15"/><rect x="253.47" y="1108.62" width="2.9699999999999998" height="12.88"/><rect x="257.70" y="1121.50" width="2.9699999999999998" height="22.50"/><rect x="261.93" y="1121.50" width="2.9699999999999998" height="4.27"/><rect x="266.16" y="1107.55" width="2.9699999999999998" height="13.95"/><rect x="270.39" y="1121.50" width="2.9699999999999998" height="42.86"/><rect x="274.62" y="1121.50" width="2.9699999999999998" height="8.56"/><rect x="278.84" y="1110.77" width="2.9699999999999998" height="10.73"/><rect x="283.07" y="1121.50" width="2.9699999999999998" height="17.14"/><rect x="287.30" y="1085.04" width="2.9699999999999998" height="36.46"/><rect x="291.53" y="1121.50" width="2.9699999999999998" height="41.15"/><rect x="295.76" y="1121.50" width="2.9699999999999998" height="8.56"/><rect x="299.99" y="1121.50" width="2.9699999999999998" height="17.14"/><rect x="304.22" y="1071.10" width="2.9699999999999998" height="50.40"/><rect x="308.45" y="1121.50" width="2.9699999999999998" height="38.58"/><rect x="312.68" y="1112.91" width="2.9699999999999998" height="8.59"/><rect x="316.90" y="1121.50" width="2.9699999999999998" height="16.49"/><rect x="321.13" y="1066.81" width="2.9699999999999998" height="54.69"/><rect x="325.36" y="1120.41" width="2.9699999999999998" height="1.09"/><rect x="329.59" y="1095.76" width="2.9699999999999998" height="25.74"/><rect x="333.82" y="1117.20" width="2.9699999999999998" height="4.30"/><rect x="338.05" y="1121.50" width="2.9699999999999998" height="46.08"/><rect x="342.28" y="1089.33" width="2.9699999999999998" height="32.17"/><rect x="346.51" y="1121.50" width="2.9699999999999998" height="27.86"/><rect x="350.74" y="1121.50" width="2.9699999999999998" height="21.42"/><rect x="354.97" y="1121.50" width="2.9699999999999998" height="39.65"/><rect x="359.20" y="1044.95" width="2.9699999999999998" height="76.55"/><rect x="363.42" y="1121.50" width="2.9699999999999998" height="41.15"/><rect x="367.65" y="1121.50" width="2.9699999999999998" height="55.73"/><rect x="371.88" y="1121.50" width="2.9699999999999998" height="60.02"/><rect x="376.11" y="1107.12" width="2.9699999999999998" height="14.38"/><rect x="380.34" y="1121.50" width="2.9699999999999998" height="123.26"/><rect x="384.57" y="1121.50" width="2.9699999999999998" height="130.77"/><rect x="388.80" y="1121.50" width="2.9699999999999998" height="111.47"/><rect x="393.03" y="1121.50" width="2.9699999999999998" height="94.32"/><rect x="397.26" y="1121.50" width="2.9699999999999998" height="50.37"/><rect x="401.49" y="1121.50" width="2.9699999999999998" height="67.52"/></g>
<polyline points="64.65,1225.47 68.88,1219.68 73.11,1147.21 77.34,1088.90 81.57,1145.50 85.80,1064.03 90.02,1094.04 94.25,1093.19 98.48,1146.14 102.71,1157.93 106.94,1168.22 111.17,1168.22 115.40,1223.32 119.63,1216.25 123.86,1160.08 128.09,1117.20 132.31,1154.72 136.54,1113.55 140.77,1116.13 145.00,1050.74 149.23,1155.79 153.46,1144.64 157.69,1159.43 161.92,1158.36 166.15,1196.52 170.38,1216.25 174.60,1130.06 178.83,1069.60 183.06,1124.70 187.29,1133.92 191.52,1121.49 195.75,1147.21 199.98,1110.77 204.21,1154.72 208.44,1130.06 212.67,1155.79 216.89,1240.47 221.12,1222.25 225.35,1115.05 229.58,1079.25 233.81,1139.28 238.04,1095.76 242.27,1096.19 246.50,1123.63 250.73,1155.79 254.96,1142.92 259.18,1151.50 263.41,1175.08 267.64,1235.11 271.87,1240.05 276.10,1147.21 280.33,1089.33 284.56,1153.64 288.79,1078.18 293.02,1144.00 297.25,1125.77 301.47,1144.64 305.70,1096.83 309.93,1179.37 314.16,1169.08 318.39,1241.12 322.62,1223.32 326.85,1130.06 331.08,1054.38 335.31,1149.36 339.53,1134.35 343.76,1113.98 347.99,1174.01 352.22,1163.29 356.45,1140.78 360.68,1127.49 364.91,1187.95 369.14,1257.63 373.37,1246.91 377.60,1123.20 381.83,1202.96 386.05,1274.13 390.28,1237.26 394.51,1219.04 398.74,1207.67 402.97,1214.32" fill="none" stroke="#00b0f0" stroke-width="5.148" stroke-linejoin="round" stroke-linecap="round"/>
<text x="7.2" y="956.2" font-size="21.3" font-weight="700" fill="#000" stroke="#000" stroke-width="0.45">＜北海道（札幌）＞</text>
<text x="16.8" y="995.7" font-size="17.8" fill="#1a1a1a">(<tspan font-size="15.3" dx="1.5">戸</tspan><tspan dx="1.4">)</tspan></text>
<text x="415.9" y="994.3" font-size="17.8" fill="#1a1a1a" letter-spacing="1.6">(%)</text>
<line x1="103.7" x2="138.9" y1="1009.4" y2="1009.4" stroke="#00b0f0" stroke-width="5.4"/>
<text x="152.8" y="1015.5" font-size="18.3" fill="#262626">着工戸数</text>
<line x1="232.6" x2="275" y1="1008.1" y2="1008.1" stroke="#a6a6a6" stroke-width="5.4"/>
<text x="280.4" y="1015.5" font-size="18.3" fill="#262626">前年同月比</text>
<text transform="translate(48.7,1025.0) scale(0.900,1)" text-anchor="end" font-size="14.5" fill="#595959" stroke="#595959" stroke-width="0.4">2,500</text>
<text transform="translate(48.7,1079.2) scale(0.900,1)" text-anchor="end" font-size="14.5" fill="#595959" stroke="#595959" stroke-width="0.4">2,000</text>
<text transform="translate(48.7,1133.4) scale(0.855,1)" text-anchor="end" font-size="14.5" fill="#595959" stroke="#595959" stroke-width="0.4">1,500</text>
<text transform="translate(48.7,1187.6) scale(0.855,1)" text-anchor="end" font-size="14.5" fill="#595959" stroke="#595959" stroke-width="0.4">1,000</text>
<text transform="translate(48.7,1241.9) scale(0.900,1)" text-anchor="end" font-size="14.5" fill="#595959" stroke="#595959" stroke-width="0.4">500</text>
<text transform="translate(48.7,1296.1) scale(0.900,1)" text-anchor="end" font-size="14.5" fill="#595959" stroke="#595959" stroke-width="0.4">0</text>
<text transform="translate(418.2,1025.0) scale(0.900,1)" font-size="14.5" fill="#595959" stroke="#595959" stroke-width="0.4">60.0</text>
<text transform="translate(418.2,1058.9) scale(0.900,1)" font-size="14.5" fill="#595959" stroke="#595959" stroke-width="0.4">40.0</text>
<text transform="translate(418.2,1092.7) scale(0.900,1)" font-size="14.5" fill="#595959" stroke="#595959" stroke-width="0.4">20.0</text>
<text transform="translate(418.2,1126.6) scale(0.900,1)" font-size="14.5" fill="#595959" stroke="#595959" stroke-width="0.4">0.0</text>
<text transform="translate(418.2,1160.5) scale(0.900,1)" font-size="14.5" fill="#ff0000" stroke="#ff0000" stroke-width="0.4"><tspan textLength="7.5" lengthAdjust="spacingAndGlyphs">-</tspan>20.0</text>
<text transform="translate(418.2,1194.4) scale(0.900,1)" font-size="14.5" fill="#ff0000" stroke="#ff0000" stroke-width="0.4"><tspan textLength="7.5" lengthAdjust="spacingAndGlyphs">-</tspan>40.0</text>
<text transform="translate(418.2,1228.3) scale(0.900,1)" font-size="14.5" fill="#ff0000" stroke="#ff0000" stroke-width="0.4"><tspan textLength="7.5" lengthAdjust="spacingAndGlyphs">-</tspan>60.0</text>
<text transform="translate(418.2,1262.2) scale(0.900,1)" font-size="14.5" fill="#ff0000" stroke="#ff0000" stroke-width="0.4"><tspan textLength="7.5" lengthAdjust="spacingAndGlyphs">-</tspan>80.0</text>
<text transform="translate(418.2,1296.1) scale(0.855,1)" font-size="14.5" fill="#ff0000" stroke="#ff0000" stroke-width="0.4"><tspan textLength="7.5" lengthAdjust="spacingAndGlyphs">-</tspan>100.0</text>
<text transform="translate(68.7,1313.9) rotate(-45) scale(0.920,1)" text-anchor="end" font-size="14.5" fill="#595959" stroke="#595959" stroke-width="0.2">2019年</text>
<text transform="translate(119.4,1313.9) rotate(-45) scale(0.979,1)" text-anchor="end" font-size="14.5" fill="#595959" stroke="#595959" stroke-width="0.2">2020年</text>
<text transform="translate(170.1,1313.9) rotate(-45) scale(0.920,1)" text-anchor="end" font-size="14.5" fill="#595959" stroke="#595959" stroke-width="0.2">2021年</text>
<text transform="translate(220.9,1313.9) rotate(-45) scale(0.979,1)" text-anchor="end" font-size="14.5" fill="#595959" stroke="#595959" stroke-width="0.2">2022年</text>
<text transform="translate(271.6,1313.9) rotate(-45) scale(0.979,1)" text-anchor="end" font-size="14.5" fill="#595959" stroke="#595959" stroke-width="0.2">2023年</text>
<text transform="translate(322.4,1313.9) rotate(-45) scale(0.979,1)" text-anchor="end" font-size="14.5" fill="#595959" stroke="#595959" stroke-width="0.2">2024年</text>
<text transform="translate(373.1,1313.9) rotate(-45) scale(0.979,1)" text-anchor="end" font-size="14.5" fill="#595959" stroke="#595959" stroke-width="0.2">2025年</text>
</svg>
</body></html>
